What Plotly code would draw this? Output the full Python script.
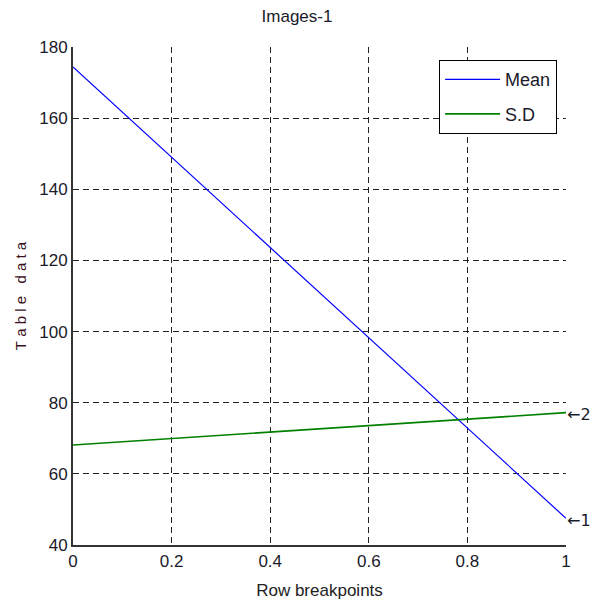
import plotly.graph_objects as go

x_vals = [0, 1]
mean_vals = [174.4, 47.5]
sd_vals = [68.1, 77.2]
x_ticks = [0, 0.2, 0.4, 0.6, 0.8, 1]
x_tick_labels = ["0", "0.2", "0.4", "0.6", "0.8", "1"]
y_ticks = [40, 60, 80, 100, 120, 140, 160, 180]
y_tick_labels = ["40", "60", "80", "100", "120", "140", "160", "180"]
series_labels = ["Mean", "S.D"]
end_labels = ["1", "2"]

font = "Liberation Sans Narrow, Arial Narrow, Liberation Sans, Arial"
txt = "#1a1a2a"

fig = go.Figure()
fig.add_trace(go.Scatter(x=x_vals, y=mean_vals, mode="lines", name=series_labels[0],
                         legendgroup="a", line=dict(color="#0000FF", width=1.2)))
fig.add_trace(go.Scatter(x=x_vals, y=sd_vals, mode="lines", name=series_labels[1],
                         legendgroup="b", line=dict(color="#008000", width=1.6)))

for yv, lab in zip([mean_vals[-1], sd_vals[-1]], end_labels):
    fig.add_annotation(x=x_vals[-1], y=yv, text="\u2190" + lab, showarrow=False,
                       xanchor="left", yanchor="middle", xshift=-1, yshift=-2,
                       font=dict(family="DejaVu Sans", size=16, color=txt))

nb = "\u00a0"
ytitle = nb.join(list("Table")) + nb * 3 + nb.join(list("data"))

fig.update_layout(
    width=592, height=611,
    margin=dict(l=73, r=26, t=47, b=66),
    paper_bgcolor="white", plot_bgcolor="white",
    title=dict(text="Images-1", x=297 / 592, xanchor="center", xref="container",
               y=1 - 16 / 611, yanchor="middle", yref="container",
               font=dict(family=font, size=17, color=txt)),
    showlegend=True,
    legend=dict(x=0.742, y=0.974, xanchor="left", yanchor="top",
                bordercolor="black", borderwidth=1.3, bgcolor="white",
                font=dict(family=font, size=18, color=txt),
                itemwidth=55, tracegroupgap=8),
    xaxis=dict(range=[0, 1], tickvals=x_ticks, ticktext=x_tick_labels,
               showgrid=True, gridcolor="#222222", griddash="6px,4px", gridwidth=1,
               showline=True, linecolor="#333333", linewidth=2, mirror=False,
               ticks="", zeroline=False, automargin=True,
               tickfont=dict(family=font, size=17, color=txt),
               title=dict(text="Row breakpoints", standoff=14,
                          font=dict(family=font, size=17, color="#222222"))),
    yaxis=dict(range=[40, 180], tickvals=y_ticks, ticktext=y_tick_labels,
               showgrid=True, gridcolor="#222222", griddash="6px,4px", gridwidth=1,
               showline=True, linecolor="#333333", linewidth=2, mirror=False,
               ticks="", zeroline=False, automargin=True,
               tickfont=dict(family=font, size=17, color=txt),
               title=dict(text=ytitle, standoff=9,
                          font=dict(family="Liberation Sans, Arial", size=15, color="#3a1020"))),
)
fig.write_html("out.html", config={"displayModeBar": False},
               post_script="document.body.style.margin='0px';document.body.style.overflow='hidden';")
